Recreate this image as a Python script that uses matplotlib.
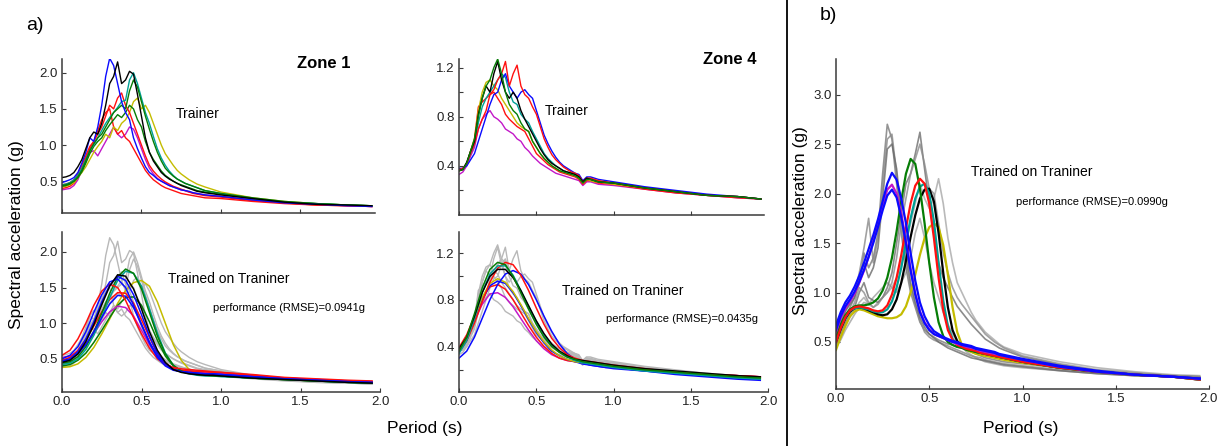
import matplotlib
matplotlib.use("Agg")
import matplotlib.pyplot as plt
from matplotlib.lines import Line2D

plt.rcParams["font.family"] = ["Liberation Sans", "DejaVu Sans"]

# periods (s) for the recorded spectra and for the predicted (smooth) spectra
period_rec = [0.0, 0.025, 0.05, 0.075, 0.1, 0.125, 0.15, 0.175, 0.2, 0.225,
              0.25, 0.275, 0.3, 0.325, 0.35, 0.375, 0.4, 0.425, 0.45, 0.475,
              0.5, 0.525, 0.55, 0.575, 0.6, 0.625, 0.65, 0.675, 0.7, 0.725,
              0.75, 0.775, 0.8, 0.825, 0.85, 0.875, 0.9,
              1.0, 1.2, 1.4, 1.6, 1.8, 1.95]
period_pred = [0.0, 0.05, 0.1, 0.15, 0.2, 0.25, 0.3, 0.35, 0.4, 0.45,
               0.5, 0.55, 0.6, 0.65, 0.7, 0.75, 0.8, 0.85, 0.9, 0.95,
               1.0, 1.2, 1.4, 1.6, 1.8, 1.95]

# ---- Zone 1 trainer records (g)
z1_blue = [0.48, 0.50, 0.52, 0.55, 0.62, 0.75, 0.90, 1.10, 1.05, 1.25,
           1.55, 1.95, 2.20, 2.10, 1.85, 1.60, 1.45, 1.35, 1.10, 0.95,
           0.82, 0.70, 0.62, 0.58, 0.53, 0.50, 0.47, 0.44, 0.42, 0.40,
           0.38, 0.37, 0.36, 0.34, 0.33, 0.32, 0.31,
           0.29, 0.24, 0.20, 0.18, 0.16, 0.15]
z1_black = [0.55, 0.56, 0.58, 0.62, 0.70, 0.80, 0.95, 1.10, 1.18, 1.15,
            1.30, 1.55, 1.85, 1.95, 2.15, 1.85, 1.90, 2.02, 1.98, 1.70,
            1.40, 1.10, 0.90, 0.78, 0.70, 0.62, 0.57, 0.53, 0.50, 0.47,
            0.44, 0.42, 0.40, 0.38, 0.36, 0.35, 0.34,
            0.31, 0.26, 0.21, 0.18, 0.17, 0.16]
z1_teal = [0.45, 0.46, 0.48, 0.52, 0.58, 0.68, 0.80, 0.92, 1.00, 1.10,
           1.20, 1.30, 1.38, 1.45, 1.52, 1.60, 1.62, 1.90, 2.00, 1.85,
           1.65, 1.45, 1.30, 1.12, 0.95, 0.82, 0.72, 0.64, 0.58, 0.53,
           0.50, 0.47, 0.45, 0.43, 0.41, 0.39, 0.37,
           0.33, 0.26, 0.21, 0.19, 0.17, 0.16]
z1_green = [0.44, 0.45, 0.47, 0.50, 0.56, 0.65, 0.78, 0.92, 1.02, 1.10,
            1.15, 1.25, 1.35, 1.45, 1.50, 1.55, 1.50, 1.75, 1.90, 1.80,
            1.60, 1.40, 1.22, 1.05, 0.90, 0.78, 0.68, 0.62, 0.57, 0.53,
            0.50, 0.47, 0.45, 0.43, 0.41, 0.39, 0.37,
            0.33, 0.27, 0.22, 0.19, 0.17, 0.16]
z1_green2 = [0.43, 0.44, 0.46, 0.50, 0.55, 0.63, 0.75, 0.88, 0.98, 1.05,
             1.10, 1.20, 1.28, 1.35, 1.42, 1.38, 1.45, 1.55, 1.50, 1.35,
             1.25, 1.05, 0.90, 0.80, 0.72, 0.64, 0.58, 0.54, 0.50, 0.47,
             0.45, 0.43, 0.41, 0.39, 0.37, 0.36, 0.35,
             0.32, 0.26, 0.21, 0.19, 0.17, 0.16]
z1_yellow = [0.42, 0.43, 0.45, 0.48, 0.55, 0.62, 0.70, 0.80, 0.90, 0.98,
             1.05, 1.15, 1.10, 1.25, 1.20, 1.30, 1.35, 1.45, 1.60, 1.65,
             1.50, 1.55, 1.45, 1.30, 1.15, 1.00, 0.88, 0.80, 0.72, 0.65,
             0.60, 0.56, 0.52, 0.49, 0.46, 0.44, 0.42,
             0.35, 0.27, 0.22, 0.19, 0.17, 0.16]
z1_red = [0.45, 0.46, 0.48, 0.52, 0.60, 0.72, 0.85, 0.98, 1.05, 1.15,
          1.25, 1.40, 1.55, 1.50, 1.65, 1.72, 1.55, 1.45, 1.30, 1.15,
          1.00, 0.85, 0.72, 0.64, 0.58, 0.53, 0.49, 0.46, 0.43, 0.41,
          0.39, 0.37, 0.35, 0.33, 0.32, 0.31, 0.30,
          0.28, 0.23, 0.20, 0.17, 0.16, 0.15]
z1_red2 = [0.40, 0.41, 0.43, 0.47, 0.55, 0.68, 0.82, 0.95, 1.05, 1.20,
           1.35, 1.45, 1.50, 1.25, 1.15, 1.20, 1.10, 1.05, 0.95, 0.85,
           0.75, 0.65, 0.58, 0.52, 0.48, 0.44, 0.41, 0.39, 0.37, 0.35,
           0.33, 0.32, 0.31, 0.30, 0.29, 0.28, 0.27,
           0.26, 0.22, 0.19, 0.17, 0.16, 0.15]
z1_magenta = [0.38, 0.39, 0.40, 0.44, 0.52, 0.65, 0.78, 0.90, 0.92, 0.85,
              0.95, 1.05, 1.15, 1.25, 1.15, 1.10, 1.15, 1.25, 1.22, 1.10,
              0.95, 0.80, 0.68, 0.60, 0.54, 0.50, 0.47, 0.44, 0.42, 0.40,
              0.38, 0.37, 0.35, 0.34, 0.33, 0.32, 0.31,
              0.29, 0.24, 0.20, 0.18, 0.16, 0.15]

# ---- Zone 4 trainer records (g)
z4_green = [0.36, 0.37, 0.42, 0.52, 0.62, 0.80, 0.95, 1.05, 1.10, 1.20,
            1.27, 1.15, 1.00, 0.90, 0.85, 0.82, 0.75, 0.70, 0.68, 0.60,
            0.55, 0.50, 0.46, 0.43, 0.40, 0.38, 0.36, 0.35, 0.34, 0.33,
            0.32, 0.30, 0.26, 0.29, 0.29, 0.28, 0.27,
            0.26, 0.22, 0.19, 0.16, 0.15, 0.13]
z4_black = [0.36, 0.37, 0.43, 0.52, 0.60, 0.82, 0.95, 1.05, 1.00, 1.15,
            1.25, 1.10, 1.00, 0.95, 1.00, 0.95, 0.85, 0.78, 0.72, 0.66,
            0.60, 0.54, 0.49, 0.45, 0.42, 0.40, 0.38, 0.36, 0.35, 0.34,
            0.33, 0.31, 0.27, 0.30, 0.29, 0.28, 0.27,
            0.26, 0.22, 0.19, 0.16, 0.15, 0.13]
z4_yellow = [0.37, 0.38, 0.42, 0.52, 0.62, 0.85, 1.00, 1.08, 1.10, 1.05,
             1.02, 0.95, 0.90, 0.85, 0.80, 0.75, 0.72, 0.70, 0.68, 0.60,
             0.55, 0.50, 0.46, 0.43, 0.40, 0.38, 0.36, 0.35, 0.34, 0.33,
             0.32, 0.30, 0.26, 0.29, 0.28, 0.27, 0.27,
             0.25, 0.22, 0.19, 0.16, 0.15, 0.13]
z4_red = [0.37, 0.38, 0.42, 0.50, 0.58, 0.70, 0.78, 0.85, 0.98, 1.02,
          1.10, 1.15, 1.25, 1.05, 1.15, 1.22, 1.05, 0.98, 0.95, 0.88,
          0.82, 0.72, 0.62, 0.55, 0.49, 0.45, 0.42, 0.39, 0.37, 0.35,
          0.34, 0.32, 0.27, 0.30, 0.30, 0.29, 0.28,
          0.26, 0.22, 0.19, 0.16, 0.15, 0.13]
z4_blue = [0.38, 0.38, 0.40, 0.45, 0.50, 0.60, 0.70, 0.80, 0.90, 0.98,
           1.00, 1.10, 1.15, 1.05, 1.00, 0.95, 1.00, 1.02, 0.98, 0.95,
           0.85, 0.75, 0.65, 0.58, 0.52, 0.47, 0.43, 0.40, 0.38, 0.36,
           0.34, 0.33, 0.28, 0.31, 0.31, 0.30, 0.29,
           0.27, 0.23, 0.20, 0.17, 0.15, 0.13]
z4_teal = [0.37, 0.38, 0.42, 0.50, 0.58, 0.75, 0.88, 0.95, 1.00, 1.05,
           1.10, 1.15, 1.12, 1.00, 0.92, 0.90, 0.82, 0.78, 0.75, 0.68,
           0.62, 0.56, 0.50, 0.46, 0.43, 0.40, 0.38, 0.36, 0.35, 0.34,
           0.33, 0.31, 0.27, 0.30, 0.29, 0.28, 0.27,
           0.26, 0.22, 0.19, 0.16, 0.15, 0.13]
z4_red2 = [0.36, 0.37, 0.42, 0.52, 0.62, 0.88, 0.92, 0.95, 0.98, 1.00,
           0.95, 0.90, 0.82, 0.78, 0.75, 0.72, 0.70, 0.68, 0.62, 0.56,
           0.50, 0.47, 0.44, 0.41, 0.39, 0.37, 0.35, 0.34, 0.33, 0.32,
           0.31, 0.29, 0.25, 0.28, 0.28, 0.27, 0.26,
           0.25, 0.21, 0.18, 0.16, 0.14, 0.13]
z4_magenta = [0.33, 0.35, 0.40, 0.48, 0.55, 0.70, 0.78, 0.82, 0.85, 0.80,
              0.78, 0.75, 0.70, 0.68, 0.66, 0.62, 0.60, 0.55, 0.52, 0.48,
              0.45, 0.42, 0.40, 0.38, 0.36, 0.34, 0.33, 0.32, 0.31, 0.30,
              0.29, 0.28, 0.24, 0.27, 0.27, 0.26, 0.25,
              0.24, 0.21, 0.18, 0.16, 0.14, 0.13]

# ---- Zone 1 predictions (g)
p1_red = [0.55, 0.62, 0.78, 1.00, 1.25, 1.45, 1.55, 1.50, 1.32, 1.08,
          0.85, 0.65, 0.50, 0.42, 0.38, 0.36, 0.35, 0.34, 0.33, 0.32,
          0.31, 0.27, 0.23, 0.21, 0.19, 0.18]
p1_blue = [0.50, 0.55, 0.67, 0.88, 1.15, 1.40, 1.58, 1.62, 1.50, 1.25,
           0.98, 0.72, 0.52, 0.40, 0.34, 0.32, 0.31, 0.30, 0.29, 0.29,
           0.28, 0.25, 0.22, 0.20, 0.18, 0.17]
p1_blue2 = [0.47, 0.50, 0.60, 0.78, 1.02, 1.30, 1.53, 1.66, 1.60, 1.40,
            1.12, 0.82, 0.58, 0.43, 0.35, 0.32, 0.30, 0.29, 0.29, 0.28,
            0.28, 0.25, 0.22, 0.20, 0.18, 0.17]
p1_blue3 = [0.46, 0.49, 0.57, 0.70, 0.88, 1.08, 1.27, 1.39, 1.38, 1.22,
            0.98, 0.74, 0.54, 0.42, 0.35, 0.32, 0.31, 0.30, 0.29, 0.29,
            0.28, 0.25, 0.22, 0.20, 0.18, 0.17]
p1_black = [0.45, 0.48, 0.57, 0.74, 0.98, 1.26, 1.52, 1.68, 1.66, 1.48,
            1.20, 0.88, 0.62, 0.45, 0.35, 0.31, 0.29, 0.28, 0.27, 0.27,
            0.26, 0.23, 0.21, 0.19, 0.17, 0.16]
p1_green = [0.44, 0.46, 0.53, 0.67, 0.88, 1.14, 1.42, 1.65, 1.76, 1.70,
            1.48, 1.15, 0.82, 0.57, 0.41, 0.33, 0.30, 0.28, 0.27, 0.26,
            0.26, 0.23, 0.21, 0.19, 0.17, 0.16]
p1_teal = [0.42, 0.44, 0.50, 0.63, 0.83, 1.08, 1.36, 1.60, 1.73, 1.70,
           1.52, 1.20, 0.86, 0.58, 0.41, 0.32, 0.29, 0.27, 0.26, 0.26,
           0.25, 0.23, 0.21, 0.19, 0.17, 0.16]
p1_yellow = [0.38, 0.39, 0.43, 0.52, 0.66, 0.85, 1.06, 1.28, 1.46, 1.57,
             1.60, 1.52, 1.30, 1.00, 0.70, 0.48, 0.35, 0.30, 0.28, 0.27,
             0.26, 0.23, 0.21, 0.19, 0.18, 0.17]
p1_red2 = [0.48, 0.52, 0.62, 0.77, 0.96, 1.16, 1.33, 1.43, 1.42, 1.28,
           1.05, 0.80, 0.58, 0.44, 0.37, 0.34, 0.33, 0.32, 0.32, 0.31,
           0.31, 0.28, 0.24, 0.22, 0.20, 0.19]
p1_green2 = [0.40, 0.42, 0.48, 0.58, 0.73, 0.90, 1.08, 1.25, 1.36, 1.37,
             1.25, 1.02, 0.76, 0.54, 0.40, 0.33, 0.30, 0.28, 0.27, 0.27,
             0.26, 0.23, 0.21, 0.19, 0.17, 0.16]
p1_magenta = [0.52, 0.54, 0.60, 0.70, 0.85, 1.02, 1.16, 1.24, 1.22, 1.10,
              0.90, 0.70, 0.54, 0.43, 0.37, 0.34, 0.33, 0.32, 0.31, 0.31,
              0.30, 0.27, 0.23, 0.21, 0.19, 0.18]

# ---- Zone 4 predictions (g)
p4_green = [0.36, 0.48, 0.68, 0.90, 1.06, 1.12, 1.10, 1.00, 0.86, 0.72,
            0.59, 0.48, 0.40, 0.35, 0.31, 0.29, 0.27, 0.26, 0.25, 0.24,
            0.23, 0.20, 0.18, 0.16, 0.14, 0.13]
p4_teal = [0.34, 0.45, 0.64, 0.86, 1.02, 1.09, 1.09, 1.01, 0.88, 0.74,
           0.61, 0.49, 0.41, 0.35, 0.31, 0.28, 0.26, 0.25, 0.24, 0.23,
           0.22, 0.19, 0.17, 0.15, 0.13, 0.12]
p4_red = [0.36, 0.45, 0.60, 0.78, 0.95, 1.07, 1.12, 1.10, 1.01, 0.88,
          0.73, 0.59, 0.47, 0.39, 0.33, 0.30, 0.28, 0.27, 0.26, 0.25,
          0.24, 0.21, 0.18, 0.16, 0.15, 0.14]
p4_blue = [0.30, 0.36, 0.48, 0.64, 0.80, 0.93, 1.02, 1.05, 1.02, 0.93,
           0.80, 0.66, 0.53, 0.42, 0.34, 0.29, 0.26, 0.24, 0.23, 0.22,
           0.21, 0.19, 0.16, 0.14, 0.12, 0.11]
p4_black = [0.38, 0.48, 0.66, 0.86, 1.00, 1.06, 1.06, 0.99, 0.88, 0.75,
            0.62, 0.51, 0.42, 0.36, 0.32, 0.29, 0.28, 0.27, 0.26, 0.25,
            0.24, 0.21, 0.19, 0.17, 0.15, 0.14]
p4_yellow = [0.37, 0.47, 0.64, 0.82, 0.94, 0.98, 0.95, 0.87, 0.76, 0.64,
             0.53, 0.44, 0.37, 0.32, 0.29, 0.27, 0.26, 0.25, 0.24, 0.23,
             0.23, 0.20, 0.18, 0.16, 0.14, 0.13]
p4_blue2 = [0.35, 0.45, 0.62, 0.80, 0.92, 0.96, 0.94, 0.86, 0.75, 0.63,
            0.52, 0.43, 0.36, 0.32, 0.29, 0.27, 0.25, 0.24, 0.23, 0.22,
            0.22, 0.19, 0.17, 0.15, 0.13, 0.12]
p4_red2 = [0.39, 0.50, 0.66, 0.82, 0.91, 0.93, 0.89, 0.80, 0.69, 0.58,
           0.48, 0.40, 0.34, 0.30, 0.28, 0.27, 0.26, 0.25, 0.24, 0.24,
           0.23, 0.20, 0.18, 0.16, 0.15, 0.14]
p4_magenta = [0.37, 0.47, 0.62, 0.76, 0.85, 0.86, 0.82, 0.74, 0.64, 0.54,
              0.45, 0.38, 0.33, 0.30, 0.28, 0.27, 0.26, 0.25, 0.24, 0.24,
              0.23, 0.20, 0.18, 0.16, 0.15, 0.14]

# ---- panel b: target records (gray) and predictions, on period_rec
b_rec1 = [0.50, 0.60, 0.75, 0.85, 0.95, 1.10, 1.40, 1.25, 1.35, 1.60,
          2.20, 2.70, 2.55, 2.10, 1.60, 1.25, 1.00, 0.85, 0.70, 0.62,
          0.58, 0.55, 0.52, 0.50, 0.48, 0.47, 0.45, 0.44, 0.42, 0.40,
          0.38, 0.36, 0.34, 0.33, 0.32, 0.31, 0.30,
          0.28, 0.24, 0.19, 0.17, 0.15, 0.14]
b_rec2 = [0.55, 0.65, 0.80, 0.90, 1.00, 1.20, 1.45, 1.75, 1.30, 1.55,
          2.10, 2.55, 2.60, 2.20, 1.70, 1.30, 1.05, 0.88, 0.72, 0.60,
          0.55, 0.52, 0.50, 0.48, 0.46, 0.44, 0.42, 0.40, 0.38, 0.36,
          0.35, 0.34, 0.32, 0.31, 0.30, 0.29, 0.28,
          0.26, 0.22, 0.19, 0.16, 0.15, 0.14]
b_rec3 = [0.60, 0.70, 0.82, 0.88, 0.95, 1.15, 1.30, 1.15, 1.25, 1.45,
          1.95, 2.45, 2.50, 2.25, 1.80, 1.40, 1.10, 0.90, 0.75, 0.65,
          0.58, 0.54, 0.50, 0.47, 0.44, 0.42, 0.40, 0.38, 0.36, 0.34,
          0.33, 0.32, 0.31, 0.30, 0.29, 0.28, 0.27,
          0.25, 0.21, 0.18, 0.16, 0.15, 0.14]
b_rec4 = [0.45, 0.55, 0.70, 0.78, 0.85, 1.00, 1.10, 0.95, 0.92, 0.90,
          0.95, 1.05, 1.20, 1.50, 1.80, 2.10, 2.20, 2.40, 2.62, 2.25,
          1.90, 1.60, 1.30, 1.15, 1.05, 0.95, 0.86, 0.80, 0.74, 0.68,
          0.63, 0.58, 0.53, 0.50, 0.47, 0.44, 0.42,
          0.35, 0.27, 0.21, 0.18, 0.16, 0.15]
b_rec5 = [0.50, 0.58, 0.72, 0.80, 0.90, 1.05, 1.00, 0.90, 0.85, 0.88,
          0.95, 1.00, 1.10, 1.35, 1.70, 1.95, 2.20, 2.35, 2.50, 2.30,
          2.05, 2.00, 1.70, 1.40, 1.20, 1.05, 0.95, 0.88, 0.82, 0.76,
          0.70, 0.64, 0.58, 0.54, 0.50, 0.47, 0.44,
          0.36, 0.28, 0.22, 0.19, 0.16, 0.15]
b_rec6 = [0.48, 0.55, 0.68, 0.75, 0.82, 0.90, 0.95, 0.88, 0.85, 0.90,
          0.95, 1.00, 1.05, 1.15, 1.30, 1.50, 1.70, 1.90, 2.10, 1.95,
          1.85, 1.95, 2.15, 1.90, 1.55, 1.30, 1.10, 1.00, 0.90, 0.80,
          0.72, 0.66, 0.60, 0.56, 0.52, 0.48, 0.45,
          0.38, 0.30, 0.24, 0.20, 0.17, 0.16]
b_rec7 = [0.45, 0.52, 0.62, 0.70, 0.78, 0.85, 0.90, 0.88, 0.95, 1.00,
          1.05, 1.10, 1.05, 1.00, 1.10, 1.20, 1.35, 1.60, 1.75, 1.55,
          1.30, 1.10, 0.95, 0.80, 0.68, 0.58, 0.50, 0.45, 0.40, 0.37,
          0.34, 0.32, 0.30, 0.29, 0.28, 0.27, 0.26,
          0.24, 0.21, 0.18, 0.16, 0.15, 0.14]

pb_blue = [0.67, 0.80, 0.90, 0.97, 1.06, 1.17, 1.30, 1.44, 1.58, 1.74,
           1.92, 2.10, 2.21, 2.14, 1.95, 1.70, 1.40, 1.12, 0.90, 0.76,
           0.67, 0.61, 0.58, 0.55, 0.53, 0.51, 0.50, 0.48, 0.47, 0.46,
           0.44, 0.43, 0.42, 0.41, 0.40, 0.38, 0.37,
           0.33, 0.26, 0.21, 0.17, 0.15, 0.13]
pb_blue2 = [0.62, 0.76, 0.86, 0.93, 1.01, 1.11, 1.23, 1.36, 1.50, 1.66,
            1.83, 1.98, 2.04, 1.96, 1.76, 1.50, 1.22, 0.98, 0.80, 0.69,
            0.62, 0.58, 0.56, 0.54, 0.52, 0.50, 0.49, 0.47, 0.46, 0.45,
            0.43, 0.42, 0.41, 0.40, 0.39, 0.37, 0.36,
            0.32, 0.25, 0.20, 0.17, 0.15, 0.13]
pb_magenta = [0.60, 0.74, 0.84, 0.91, 0.99, 1.10, 1.22, 1.36, 1.52, 1.70,
              1.88, 2.04, 2.09, 2.00, 1.80, 1.53, 1.24, 0.99, 0.81, 0.70,
              0.63, 0.58, 0.56, 0.54, 0.52, 0.50, 0.48, 0.47, 0.45, 0.44,
              0.43, 0.41, 0.40, 0.39, 0.38, 0.37, 0.36,
              0.32, 0.25, 0.20, 0.17, 0.15, 0.13]
pb_green = [0.55, 0.68, 0.77, 0.83, 0.86, 0.87, 0.87, 0.88, 0.90, 0.94,
            1.02, 1.15, 1.35, 1.62, 1.93, 2.20, 2.35, 2.30, 2.05, 1.70,
            1.30, 0.95, 0.70, 0.56, 0.50, 0.47, 0.45, 0.44, 0.42, 0.41,
            0.40, 0.39, 0.38, 0.37, 0.36, 0.35, 0.34,
            0.30, 0.24, 0.20, 0.17, 0.15, 0.13]
pb_red = [0.50, 0.64, 0.75, 0.82, 0.85, 0.86, 0.85, 0.84, 0.82, 0.81,
          0.82, 0.87, 0.98, 1.15, 1.38, 1.65, 1.90, 2.08, 2.15, 2.10,
          1.90, 1.55, 1.15, 0.82, 0.62, 0.52, 0.47, 0.45, 0.43, 0.42,
          0.41, 0.39, 0.38, 0.37, 0.36, 0.35, 0.34,
          0.30, 0.24, 0.20, 0.17, 0.15, 0.12]
pb_teal = [0.52, 0.65, 0.75, 0.82, 0.84, 0.85, 0.84, 0.83, 0.81, 0.80,
           0.80, 0.83, 0.91, 1.05, 1.25, 1.50, 1.75, 1.95, 2.07, 2.10,
           2.00, 1.72, 1.30, 0.92, 0.66, 0.53, 0.48, 0.45, 0.43, 0.42,
           0.40, 0.39, 0.38, 0.37, 0.36, 0.35, 0.34,
           0.30, 0.24, 0.20, 0.17, 0.15, 0.12]
pb_black = [0.50, 0.63, 0.74, 0.81, 0.84, 0.85, 0.84, 0.82, 0.80, 0.78,
            0.77, 0.78, 0.83, 0.93, 1.10, 1.32, 1.56, 1.78, 1.95, 2.04,
            2.05, 1.92, 1.60, 1.20, 0.85, 0.62, 0.51, 0.46, 0.43, 0.42,
            0.40, 0.39, 0.38, 0.37, 0.36, 0.35, 0.34,
            0.30, 0.24, 0.20, 0.17, 0.15, 0.12]
pb_yellow = [0.42, 0.55, 0.66, 0.76, 0.81, 0.83, 0.82, 0.80, 0.78, 0.76,
             0.75, 0.74, 0.74, 0.75, 0.78, 0.86, 1.00, 1.18, 1.38, 1.55,
             1.66, 1.70, 1.66, 1.48, 1.18, 0.85, 0.60, 0.47, 0.42, 0.40,
             0.38, 0.37, 0.36, 0.35, 0.34, 0.33, 0.32,
             0.29, 0.24, 0.20, 0.17, 0.15, 0.12]

BLUE = "#0a0aff"
BLACK = "#000000"
GREEN = "#067d06"
TEAL = "#00a096"
YELLOW = "#c4bc00"
RED = "#ff1010"
MAGENTA = "#c218c8"
GRAY = "#b8b8b8"

zone1_rec = [(z1_magenta, MAGENTA), (z1_red2, RED), (z1_yellow, YELLOW),
             (z1_green2, GREEN), (z1_red, RED), (z1_teal, TEAL),
             (z1_green, GREEN), (z1_blue, BLUE), (z1_black, BLACK)]
zone4_rec = [(z4_magenta, MAGENTA), (z4_red2, RED), (z4_yellow, YELLOW),
             (z4_teal, TEAL), (z4_blue, BLUE), (z4_red, RED),
             (z4_black, BLACK), (z4_green, GREEN)]
zone1_pred = [(p1_yellow, YELLOW), (p1_green2, GREEN), (p1_magenta, MAGENTA),
              (p1_red2, RED), (p1_teal, TEAL), (p1_green, GREEN),
              (p1_blue3, BLUE), (p1_red, RED), (p1_blue, BLUE),
              (p1_blue2, BLUE), (p1_black, BLACK)]
zone4_pred = [(p4_magenta, MAGENTA), (p4_red2, RED), (p4_blue2, BLUE),
              (p4_yellow, YELLOW), (p4_blue, BLUE), (p4_red, RED),
              (p4_teal, TEAL), (p4_black, BLACK), (p4_green, GREEN)]
b_records = [(b_rec6, "#a8a8a8"), (b_rec7, "#a0a0a0"), (b_rec1, "#7a7a7a"),
             (b_rec2, "#8a8a8a"), (b_rec3, "#6a6a6a"), (b_rec4, "#6e6e6e"),
             (b_rec5, "#8c8c8c")]
b_pred = [(pb_yellow, YELLOW), (pb_black, BLACK), (pb_teal, TEAL),
          (pb_green, GREEN), (pb_red, RED), (pb_magenta, MAGENTA),
          (pb_blue2, BLUE), (pb_blue, BLUE)]

W, H = 1224, 446
fig = plt.figure(figsize=(W / 100, H / 100), dpi=100)
fig.patch.set_facecolor("white")


def px_axes(x0, x1, ytop, ybot):
    return fig.add_axes([x0 / W, 1 - ybot / H, (x1 - x0) / W, (ybot - ytop) / H])


def style(ax, xlim, ylim, yticks, ylabels, xlabels=True):
    ax.set_xlim(*xlim)
    ax.set_ylim(*ylim)
    for s in ("top", "right"):
        ax.spines[s].set_visible(False)
    for s in ("left", "bottom"):
        ax.spines[s].set_color("#3a3a3a")
        ax.spines[s].set_linewidth(1.1)
    ax.set_yticks(yticks)
    ax.set_yticklabels(ylabels)
    xt = [0.0, 0.5, 1.0, 1.5, 2.0] if xlim[1] >= 1.99 else [0.0, 0.5, 1.0, 1.5]
    ax.set_xticks(xt)
    if xlabels:
        ax.set_xticklabels([f"{v:.1f}" for v in xt])
    else:
        ax.set_xticklabels([])
    ax.tick_params(axis="both", direction="in", length=3, width=0.8,
                   color="#3a3a3a", labelsize=9.5, labelcolor="#222222", pad=3)


# ---- a) Zone 1 trainer
ax1 = px_axes(62, 375, 59, 213)
for vals, c in zone1_rec:
    ax1.plot(period_rec, vals, color=c, lw=1.0)
style(ax1, (0, 1.97), (0.06, 2.19), [0.5, 1.0, 1.5, 2.0],
      ["0.5", "1.0", "1.5", "2.0"], xlabels=False)

# ---- a) Zone 1 trained
ax2 = px_axes(62, 380, 232, 392)
for vals, _ in zone1_rec:
    ax2.plot(period_rec, vals, color=GRAY, lw=1.0)
for vals, c in zone1_pred:
    ax2.plot(period_pred, vals, color=c, lw=1.1)
style(ax2, (0, 2.0), (0.035, 2.28), [0.5, 1.0, 1.5, 2.0],
      ["0.5", "1.0", "1.5", "2.0"])

# ---- a) Zone 4 trainer
ax3 = px_axes(459, 764, 59, 215)
for vals, c in zone4_rec:
    ax3.plot(period_rec, vals, color=c, lw=1.0)
style(ax3, (0, 1.97), (0.0, 1.27), [0.2, 0.4, 0.6, 0.8, 1.0, 1.2],
      ["", "0.4", "", "0.8", "", "1.2"], xlabels=False)

# ---- a) Zone 4 trained
ax4 = px_axes(459, 768, 232, 392)
for vals, _ in zone4_rec:
    ax4.plot(period_rec, vals, color=GRAY, lw=1.0)
for vals, c in zone4_pred:
    ax4.plot(period_pred, vals, color=c, lw=1.1)
style(ax4, (0, 2.0), (0.01, 1.38), [0.2, 0.4, 0.6, 0.8, 1.0, 1.2],
      ["", "0.4", "", "0.8", "", "1.2"])

# ---- b)
ax5 = px_axes(836, 1209, 59, 389)
for vals, c in b_records:
    ax5.plot(period_rec, vals, color=c, lw=1.2, alpha=0.8)
for vals, c in b_pred:
    ax5.plot(period_rec, vals, color=c, lw=1.6)
style(ax5, (0, 2.0), (0.025, 3.36), [0.5, 1.0, 1.5, 2.0, 2.5, 3.0],
      ["0.5", "1.0", "1.5", "2.0", "2.5", "3.0"])


def ftext(x, y, s, **kw):
    fig.text(x / W, 1 - y / H, s, ha="center", va="center", **kw)


ftext(35, 26, "a)", fontsize=14)
ftext(828, 15, "b)", fontsize=14)
ftext(324, 63, "Zone 1", fontsize=12, fontweight="bold")
ftext(730, 59, "Zone 4", fontsize=12, fontweight="bold")
ftext(198, 114, "Trainer", fontsize=10)
ftext(567, 111, "Trainer", fontsize=10)
ftext(229, 279, "Trained on Traniner", fontsize=10)
ftext(623, 291, "Trained on Traniner", fontsize=10)
ftext(1032, 172, "Trained on Traniner", fontsize=10)
ftext(289, 308, "performance (RMSE)=0.0941g", fontsize=8)
ftext(682, 319, "performance (RMSE)=0.0435g", fontsize=8)
ftext(1092, 202, "performance (RMSE)=0.0990g", fontsize=8)
ftext(425, 429, "Period (s)", fontsize=12.5)
ftext(1021, 429, "Period (s)", fontsize=12.5)
ftext(17, 235, "Spectral acceleration (g)", fontsize=12.5, rotation=90)
ftext(801, 221, "Spectral acceleration (g)", fontsize=12.5, rotation=90)

fig.add_artist(Line2D([787 / W, 787 / W], [0, 1], color="black", lw=1.3))

fig.savefig("out.png", dpi=100)
